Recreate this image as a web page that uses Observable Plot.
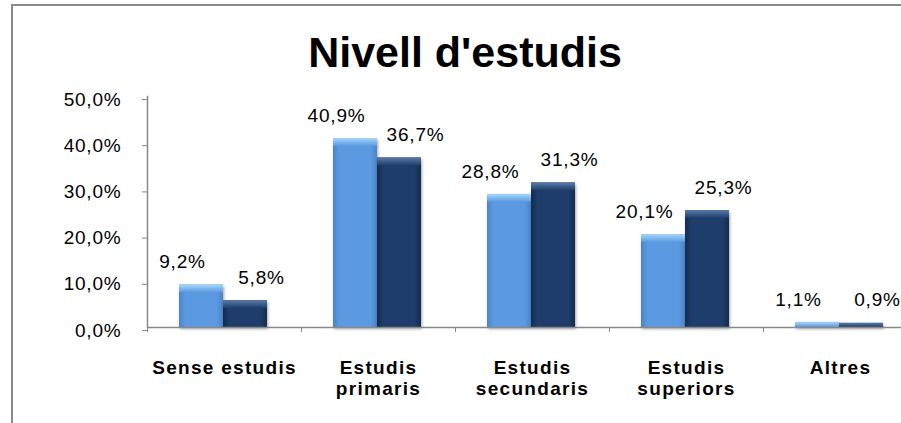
<!DOCTYPE html>
<html><head><meta charset="utf-8">
<script src="https://cdn.jsdelivr.net/npm/d3@7"></script>
<script src="https://cdn.jsdelivr.net/npm/@observablehq/plot@0.6"></script>
<style>
body{margin:0;background:#fff;}
#wrap{position:relative;width:901px;height:423px;overflow:hidden;background:#fff;font-family:"Liberation Sans",Arial,sans-serif;}
#frame{position:absolute;left:11px;top:4px;width:1000px;height:1000px;border:2px solid #8c8c8c;pointer-events:none;box-sizing:border-box;}
#title{height:80px;box-sizing:border-box;padding-top:31px;padding-left:29px;text-align:center;font-weight:bold;font-size:43px;line-height:43px;color:#000;white-space:nowrap;}
#chart svg text{letter-spacing:0.8px;}
#chart svg g[aria-label="fx-axis tick label"] text{letter-spacing:1.3px;}
#chart svg g[fill="url(#gLight)"], #chart svg g[fill="url(#gDark)"]{filter:drop-shadow(1px 2px 1.5px rgba(0,0,0,0.35));}
</style></head>
<body>
<div id="wrap">
<svg width="0" height="0" style="position:absolute">
  <defs>
    <linearGradient id="gLight" x1="0" y1="0" x2="1" y2="0">
      <stop offset="0" stop-color="#4a84c8"/><stop offset="0.15" stop-color="#5b9ae0"/>
      <stop offset="0.85" stop-color="#5b9ae0"/><stop offset="1" stop-color="#4a84c8"/>
    </linearGradient>
    <linearGradient id="gDark" x1="0" y1="0" x2="1" y2="0">
      <stop offset="0" stop-color="#142c4c"/><stop offset="0.15" stop-color="#1e3d6a"/>
      <stop offset="0.85" stop-color="#1e3d6a"/><stop offset="1" stop-color="#142c4c"/>
    </linearGradient>
    <linearGradient id="hLight" x1="0" y1="0" x2="0" y2="1">
      <stop offset="0" stop-color="#a6d6fb"/><stop offset="1" stop-color="#5b9ae0"/>
    </linearGradient>
    <linearGradient id="hDark" x1="0" y1="0" x2="0" y2="1">
      <stop offset="0" stop-color="#5a7ca8"/><stop offset="1" stop-color="#1e3d6a"/>
    </linearGradient>
  </defs>
</svg>
<div id="title">Nivell d'estudis</div>
<div id="chart"></div>
<div id="frame"></div>
</div>
<script>
const categories = ["Sense estudis", "Estudis primaris", "Estudis secundaris", "Estudis superiors", "Altres"];
const categoryLabels = ["Sense estudis", "Estudis\nprimaris", "Estudis\nsecundaris", "Estudis\nsuperiors", "Altres"];
const seriesNames = ["Sèrie 1", "Sèrie 2"];
const values1 = [9.2, 40.9, 28.8, 20.1, 1.1];
const values2 = [5.8, 36.7, 31.3, 25.3, 0.9];
const yTicks = [0, 10, 20, 30, 40, 50];

const rows1 = categories.map((c, i) => ({cat: c, s: seriesNames[0], v: values1[i]}));
const rows2 = categories.map((c, i) => ({cat: c, s: seriesNames[1], v: values2[i]}));
const fmt = d => d.toFixed(1).replace(".", ",") + "%";
const hl = d => Math.max(0, d.v - 1.7);

const chart = Plot.plot({
  width: 901,
  height: 343,
  marginTop: 16,
  marginBottom: 96,
  marginLeft: 146,
  marginRight: 0,
  style: {fontFamily: "'Liberation Sans', Arial, sans-serif", color: "#000", background: "transparent"},
  fx: {domain: categories, range: [146, 918], padding: 0, label: null},
  x: {domain: seriesNames, paddingInner: 0, paddingOuter: 0.75, align: 0.48, axis: null},
  y: {domain: [0, 50], label: null},
  marks: [
    Plot.barY(rows1, {fx: "cat", x: "s", y: "v", fill: "url(#gLight)"}),
    Plot.barY(rows2, {fx: "cat", x: "s", y: "v", fill: "url(#gDark)"}),
    Plot.barY(rows1, {fx: "cat", x: "s", y1: "v", y2: hl, fill: "url(#hLight)"}),
    Plot.barY(rows2, {fx: "cat", x: "s", y1: "v", y2: hl, fill: "url(#hDark)"}),
    Plot.ruleY([0], {stroke: "#888", strokeWidth: 1.5}),
    Plot.frame({anchor: "left", facetAnchor: "left", stroke: "#888", strokeWidth: 1.5}),
    Plot.axisY({ticks: yTicks, tickSize: 5, tickPadding: 21, tickFormat: fmt, fontSize: 19, stroke: "#888", fill: "#000", dy: 3, label: null}),
    Plot.axisFx({anchor: "bottom", tickSize: 5, fill: "none", dx: -77, stroke: "#888", label: null}),
    Plot.axisFx({anchor: "bottom", tickSize: 0, tickPadding: 32, fontSize: 19, fontWeight: "bold", lineHeight: 1.1, fill: "#000",
      tickFormat: d => categoryLabels[categories.indexOf(d)], label: null}),
    Plot.text(rows1, {fx: "cat", x: "s", y: "v", text: d => fmt(d.v), dx: -19, dy: -23, fontSize: 19, fill: "#000"}),
    Plot.text(rows2, {fx: "cat", x: "s", y: "v", text: d => fmt(d.v), dx: 16, dy: -23, fontSize: 19, fill: "#000"})
  ]
});
document.getElementById("chart").appendChild(chart);
</script>
</body></html>
